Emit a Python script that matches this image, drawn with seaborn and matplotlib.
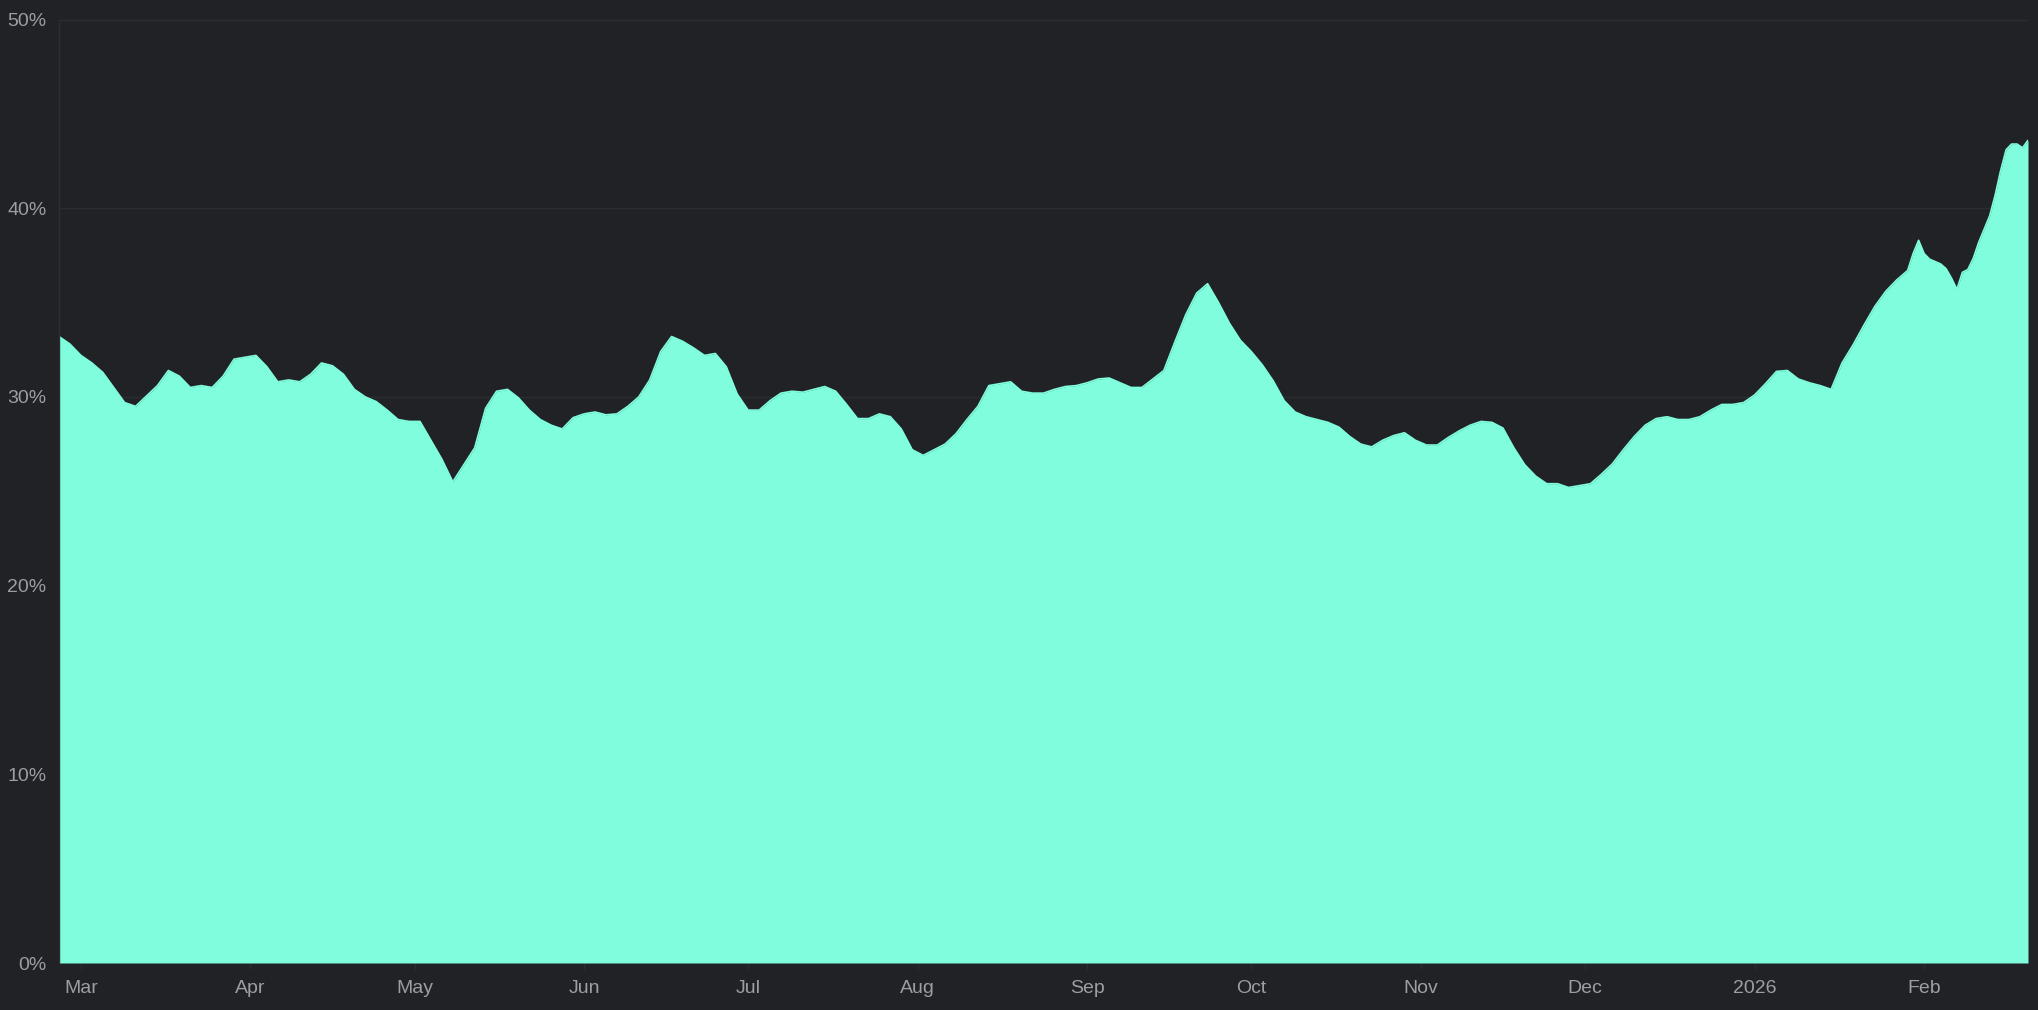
import pandas as pd
import seaborn as sns
import numpy as np
import matplotlib.pyplot as plt
import matplotlib.ticker as mticker

# values (share in %), roughly every 2 days
dates = [
    "2025-02-25", "2025-02-27", "2025-03-01", "2025-03-03", "2025-03-05", "2025-03-07",
    "2025-03-09", "2025-03-11", "2025-03-13", "2025-03-15", "2025-03-17", "2025-03-19",
    "2025-03-21", "2025-03-23", "2025-03-25", "2025-03-27", "2025-03-29", "2025-03-31",
    "2025-04-02", "2025-04-04", "2025-04-06", "2025-04-08", "2025-04-10", "2025-04-12",
    "2025-04-14", "2025-04-16", "2025-04-18", "2025-04-20", "2025-04-22", "2025-04-24",
    "2025-04-26", "2025-04-28", "2025-04-30", "2025-05-02", "2025-05-04", "2025-05-06",
    "2025-05-08", "2025-05-10", "2025-05-12", "2025-05-14", "2025-05-16", "2025-05-18",
    "2025-05-20", "2025-05-22", "2025-05-24", "2025-05-26", "2025-05-28", "2025-05-30",
    "2025-06-01", "2025-06-03", "2025-06-05", "2025-06-07", "2025-06-09", "2025-06-11",
    "2025-06-13", "2025-06-15", "2025-06-17", "2025-06-19", "2025-06-21", "2025-06-23",
    "2025-06-25", "2025-06-27", "2025-06-29", "2025-07-01", "2025-07-03", "2025-07-05",
    "2025-07-07", "2025-07-09", "2025-07-11", "2025-07-13", "2025-07-15", "2025-07-17",
    "2025-07-19", "2025-07-21", "2025-07-23", "2025-07-25", "2025-07-27", "2025-07-29",
    "2025-07-31", "2025-08-02", "2025-08-04", "2025-08-06", "2025-08-08", "2025-08-10",
    "2025-08-12", "2025-08-14", "2025-08-16", "2025-08-18", "2025-08-20", "2025-08-22",
    "2025-08-24", "2025-08-26", "2025-08-28", "2025-08-30", "2025-09-01", "2025-09-03",
    "2025-09-05", "2025-09-07", "2025-09-09", "2025-09-11", "2025-09-13", "2025-09-15",
    "2025-09-17", "2025-09-19", "2025-09-21", "2025-09-23", "2025-09-25", "2025-09-27",
    "2025-09-29", "2025-10-01", "2025-10-03", "2025-10-05", "2025-10-07", "2025-10-09",
    "2025-10-11", "2025-10-13", "2025-10-15", "2025-10-17", "2025-10-19", "2025-10-21",
    "2025-10-23", "2025-10-25", "2025-10-27", "2025-10-29", "2025-10-31", "2025-11-02",
    "2025-11-04", "2025-11-06", "2025-11-08", "2025-11-10", "2025-11-12", "2025-11-14",
    "2025-11-16", "2025-11-18", "2025-11-20", "2025-11-22", "2025-11-24", "2025-11-26",
    "2025-11-28", "2025-11-30", "2025-12-02", "2025-12-04", "2025-12-06", "2025-12-08",
    "2025-12-10", "2025-12-12", "2025-12-14", "2025-12-16", "2025-12-18", "2025-12-20",
    "2025-12-22", "2025-12-24", "2025-12-26", "2025-12-28", "2025-12-30", "2026-01-01",
    "2026-01-03", "2026-01-05", "2026-01-07", "2026-01-09", "2026-01-11", "2026-01-13",
    "2026-01-15", "2026-01-17", "2026-01-19", "2026-01-21", "2026-01-23", "2026-01-25",
    "2026-01-27", "2026-01-29", "2026-01-30", "2026-01-31", "2026-02-01", "2026-02-02",
    "2026-02-04", "2026-02-05", "2026-02-06", "2026-02-07", "2026-02-08", "2026-02-09",
    "2026-02-10", "2026-02-11", "2026-02-12", "2026-02-13", "2026-02-14", "2026-02-15",
    "2026-02-16", "2026-02-17", "2026-02-18", "2026-02-19", "2026-02-20",
]
share = [
    33.2, 32.8, 32.2, 31.8, 31.3, 30.5,
    29.7, 29.5, 30.05, 30.6, 31.4, 31.1,
    30.5, 30.6, 30.5, 31.1, 32.0, 32.1,
    32.2, 31.6, 30.8, 30.9, 30.8, 31.2,
    31.8, 31.65, 31.2, 30.4, 30.0, 29.75,
    29.3, 28.8, 28.7, 28.7, 27.7, 26.7,
    25.5, 26.4, 27.3, 29.4, 30.3, 30.4,
    29.95, 29.3, 28.8, 28.5, 28.3, 28.9,
    29.1, 29.2, 29.05, 29.1, 29.5, 30.0,
    30.9, 32.4, 33.2, 32.95, 32.6, 32.2,
    32.3, 31.6, 30.15, 29.3, 29.3, 29.8,
    30.2, 30.3, 30.25, 30.4, 30.55, 30.3,
    29.6, 28.85, 28.85, 29.1, 28.95, 28.3,
    27.2, 26.9, 27.2, 27.5, 28.05, 28.8,
    29.5, 30.6, 30.7, 30.8, 30.3, 30.2,
    30.2, 30.4, 30.55, 30.6, 30.75, 30.95,
    31.0, 30.75, 30.5, 30.5, 30.95, 31.4,
    32.9, 34.35, 35.5, 36.0, 35.0, 33.9,
    33.0, 32.4, 31.7, 30.85, 29.8, 29.2,
    28.95, 28.8, 28.65, 28.4, 27.9, 27.5,
    27.35, 27.7, 27.95, 28.1, 27.7, 27.45,
    27.45, 27.85, 28.2, 28.5, 28.7, 28.65,
    28.35, 27.3, 26.4, 25.8, 25.4, 25.4,
    25.2, 25.3, 25.4, 25.9, 26.45, 27.2,
    27.9, 28.5, 28.85, 28.95, 28.8, 28.8,
    28.95, 29.3, 29.6, 29.6, 29.7, 30.1,
    30.7, 31.35, 31.4, 30.95, 30.75, 30.6,
    30.4, 31.8, 32.75, 33.8, 34.8, 35.6,
    36.2, 36.7, 37.6, 38.3, 37.6, 37.3,
    37.05, 36.8, 36.3, 35.7, 36.6, 36.75,
    37.35, 38.2, 38.9, 39.6, 40.7, 42.0,
    43.1, 43.4, 43.4, 43.2, 43.6,
]

tick_dates = ["2025-03-01", "2025-04-01", "2025-05-01", "2025-06-01", "2025-07-01",
              "2025-08-01", "2025-09-01", "2025-10-01", "2025-11-01", "2025-12-01",
              "2026-01-01", "2026-02-01"]
tick_labels = ["Mar", "Apr", "May", "Jun", "Jul", "Aug", "Sep", "Oct", "Nov", "Dec",
               "2026", "Feb"]
y_ticks = [0, 10, 20, 30, 40, 50]

bg = "#212226"
fill = "#7ffddc"
grid = "#2c2d32"
text = "#9c9ea4"

sns.set_theme(style="dark", rc={"axes.facecolor": bg, "figure.facecolor": bg})
plt.rcParams["font.family"] = ["Liberation Sans", "DejaVu Sans"]

df = pd.DataFrame({"date": pd.to_datetime(dates), "share": share})

fig = plt.figure(figsize=(20.38, 10.10), dpi=100)
ax = fig.add_axes([59 / 2038, 1 - 963 / 1010, 1969 / 2038, (963 - 19.5) / 1010])

sns.lineplot(data=df, x="date", y="share", color=fill, lw=1.2, ax=ax,
             solid_joinstyle="round")
ax.fill_between(df["date"], df["share"], color=fill, lw=0)

ax.set_xlim(df["date"].min(), df["date"].max())
ax.set_ylim(0, 50)
ax.set_yticks(y_ticks)
ax.yaxis.set_major_formatter(mticker.FuncFormatter(lambda v, p: f"{v:.0f}%"))
ax.set_xticks(pd.to_datetime(tick_dates))
ax.set_xticklabels(tick_labels)
ax.set_xlabel("")
ax.set_ylabel("")

ax.set_axisbelow(True)
ax.grid(axis="y", color=grid, lw=1)
ax.grid(axis="x", visible=False)
for side in ["top", "right", "bottom"]:
    ax.spines[side].set_visible(False)
ax.spines["left"].set_color(grid)
ax.spines["left"].set_linewidth(1)

ax.tick_params(axis="y", length=0, pad=9, labelsize=14, labelcolor=text)
ax.tick_params(axis="x", length=4, width=1, color=grid, pad=8, labelsize=14,
               labelcolor=text, bottom=True)

fig.savefig("out.png", dpi=100, facecolor=bg)
